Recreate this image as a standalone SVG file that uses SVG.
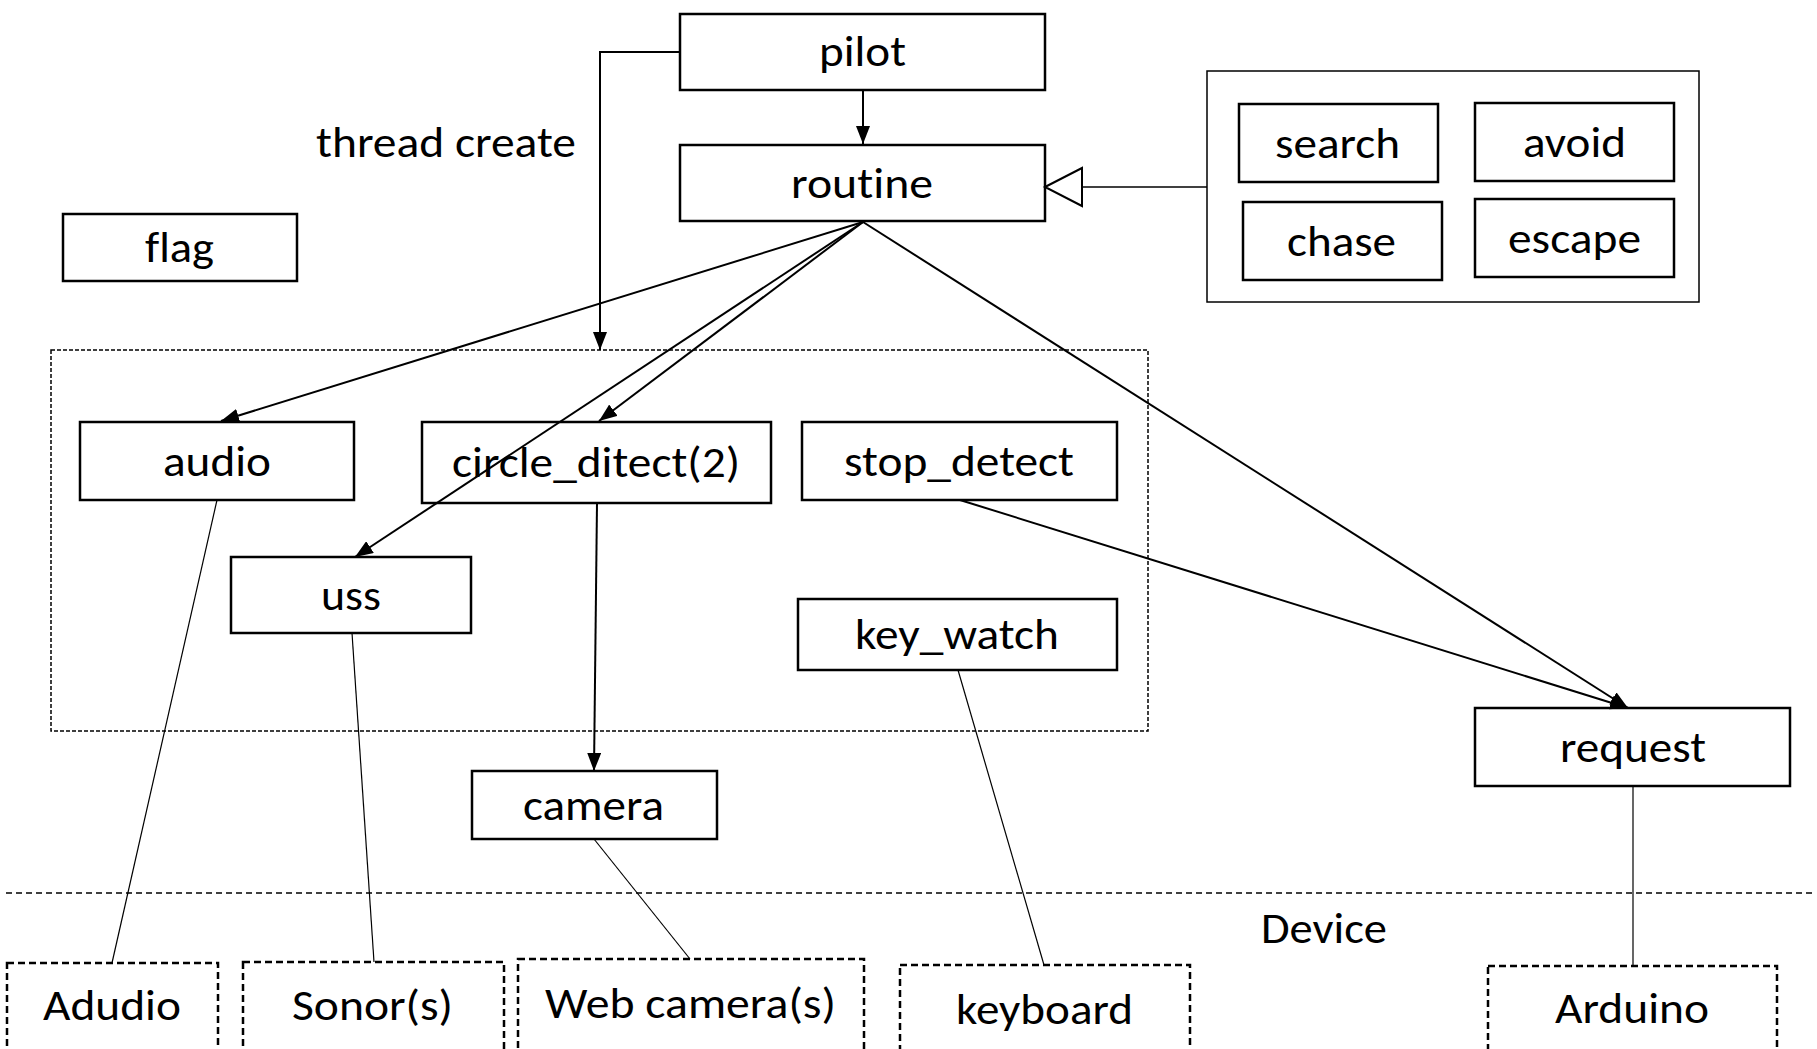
<svg xmlns="http://www.w3.org/2000/svg" width="1817" height="1049" viewBox="0 0 1817 1049">
<style>
text{font-family:Carlito,Lato,"Open Sans",sans-serif;font-size:44px;fill:#000;text-anchor:middle;font-variant-ligatures:none}
.box{fill:#fff;stroke:#000;stroke-width:2.5}
.cont{fill:#fff;stroke:#000;stroke-width:1.5}
.dev{fill:#fff;stroke:#000;stroke-width:2.5;stroke-dasharray:7,4}
.grp{fill:none;stroke:#000;stroke-width:1.5;stroke-dasharray:4,2}
.sep{fill:none;stroke:#000;stroke-width:1.5;stroke-dasharray:6,4}
.arr{fill:none;stroke:#000;stroke-width:2;marker-end:url(#ah)}
.thin{fill:none;stroke:#000;stroke-width:1.2}
</style>
<defs>
<marker id="ah" markerUnits="userSpaceOnUse" markerWidth="20" markerHeight="14" refX="18" refY="7" orient="auto">
<path d="M0,0 L18,7 L0,14 Z" fill="#000"/>
</marker>
</defs>
<rect width="1817" height="1049" fill="#fff"/>

<g id="thread-group"><rect class="grp" x="51" y="350" width="1097" height="381"/></g>
<line class="sep" x1="6" y1="893" x2="1814" y2="893"/>
<text x="1324" y="943" textLength="126" lengthAdjust="spacingAndGlyphs">Device</text>
<text x="446" y="157" textLength="260" lengthAdjust="spacingAndGlyphs">thread create</text>

<g id="pilot"><rect class="box" x="680" y="14" width="365" height="76"/><text x="862.5" y="66" textLength="87" lengthAdjust="spacingAndGlyphs">pilot</text></g>
<g id="routine"><rect class="box" x="680" y="145" width="365" height="76"/><text x="862" y="198" textLength="142" lengthAdjust="spacingAndGlyphs">routine</text></g>
<g id="flag"><rect class="box" x="63" y="214" width="234" height="67"/><text x="179.5" y="262" textLength="69" lengthAdjust="spacingAndGlyphs">flag</text></g>

<g id="behaviors"><rect class="cont" x="1207" y="71" width="492" height="231"/></g>
<g id="search"><rect class="box" x="1239" y="104" width="199" height="78"/><text x="1337.5" y="158" textLength="125" lengthAdjust="spacingAndGlyphs">search</text></g>
<g id="avoid"><rect class="box" x="1475" y="103" width="199" height="78"/><text x="1574.5" y="157" textLength="103" lengthAdjust="spacingAndGlyphs">avoid</text></g>
<g id="chase"><rect class="box" x="1243" y="202" width="199" height="78"/><text x="1341.5" y="256" textLength="109" lengthAdjust="spacingAndGlyphs">chase</text></g>
<g id="escape"><rect class="box" x="1475" y="199" width="199" height="78"/><text x="1574.5" y="253" textLength="133" lengthAdjust="spacingAndGlyphs">escape</text></g>

<g id="audio"><rect class="box" x="80" y="422" width="274" height="78"/><text x="217" y="476" textLength="108" lengthAdjust="spacingAndGlyphs">audio</text></g>
<g id="circle_ditect"><rect class="box" x="422" y="422" width="349" height="81"/><text x="596" y="477" textLength="288" lengthAdjust="spacingAndGlyphs">circle_ditect(2)</text></g>
<g id="stop_detect"><rect class="box" x="802" y="422" width="315" height="78"/><text x="959" y="476" textLength="230" lengthAdjust="spacingAndGlyphs">stop_detect</text></g>
<g id="uss"><rect class="box" x="231" y="557" width="240" height="76"/><text x="351" y="610" textLength="60" lengthAdjust="spacingAndGlyphs">uss</text></g>
<g id="key_watch"><rect class="box" x="798" y="599" width="319" height="71"/><text x="957" y="649" textLength="204" lengthAdjust="spacingAndGlyphs">key_watch</text></g>
<g id="camera"><rect class="box" x="472" y="771" width="245" height="68"/><text x="593.5" y="820" textLength="141" lengthAdjust="spacingAndGlyphs">camera</text></g>
<g id="request"><rect class="box" x="1475" y="708" width="315" height="78"/><text x="1633" y="762" textLength="146" lengthAdjust="spacingAndGlyphs">request</text></g>

<g id="dev-audio"><rect class="dev" x="7" y="963" width="211" height="100"/><text x="112" y="1020" textLength="138" lengthAdjust="spacingAndGlyphs">Adudio</text></g>
<g id="dev-sonor"><rect class="dev" x="243" y="962" width="261" height="100"/><text x="372.5" y="1020" textLength="161" lengthAdjust="spacingAndGlyphs">Sonor(s)</text></g>
<g id="dev-webcam"><rect class="dev" x="518" y="959" width="346" height="100"/><text x="690.5" y="1018" textLength="291" lengthAdjust="spacingAndGlyphs">Web camera(s)</text></g>
<g id="dev-keyboard"><rect class="dev" x="900" y="965" width="290" height="100"/><text x="1044.5" y="1024" textLength="177" lengthAdjust="spacingAndGlyphs">keyboard</text></g>
<g id="dev-arduino"><rect class="dev" x="1488" y="966" width="289" height="100"/><text x="1632" y="1023" textLength="154" lengthAdjust="spacingAndGlyphs">Arduino</text></g>

<g id="connectors">
<line class="arr" x1="863" y1="91" x2="863" y2="144"/>
<polyline class="arr" points="680,52 600,52 600,350"/>
<line class="arr" x1="863" y1="222" x2="221" y2="421"/>
<line class="arr" x1="863" y1="222" x2="599" y2="421"/>
<line class="arr" x1="863" y1="222" x2="355" y2="557"/>
<line class="arr" x1="863" y1="222" x2="1628" y2="708"/>
<line class="arr" x1="960" y1="500" x2="1628" y2="708"/>
<line class="arr" x1="597" y1="503" x2="594" y2="771"/>
<polyline fill="none" stroke="#000" stroke-width="1.5" points="1207,187 1082,187"/>
<path d="M1045,187 L1082,168 L1082,206 Z" fill="#fff" stroke="#000" stroke-width="2"/>
<line class="thin" x1="217" y1="500" x2="112" y2="963"/>
<line class="thin" x1="352" y1="633" x2="374" y2="962"/>
<line class="thin" x1="594" y1="839" x2="690" y2="959"/>
<line class="thin" x1="958" y1="670" x2="1044" y2="965"/>
<line class="thin" x1="1633" y1="786" x2="1633" y2="966"/>
</g>
</svg>
